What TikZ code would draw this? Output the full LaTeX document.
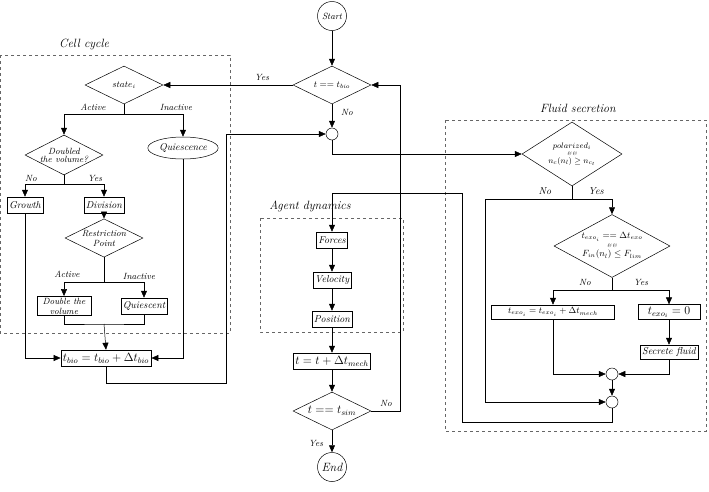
\documentclass[tikz,border=0pt]{standalone}
\usepackage{amsmath}
\usetikzlibrary{calc,arrows.meta,shapes.geometric}
\tikzset{
  arr/.style={-{Triangle[length=7pt,width=6pt]}},
  blk/.style={draw, rectangle, inner sep=2pt, minimum height=16pt, font=\normalsize\itshape},
  dec/.style={draw, diamond, aspect=2, inner sep=0pt, minimum width=78pt, minimum height=38pt, font=\small\itshape, align=center},
  jn/.style={draw, circle, inner sep=0pt, minimum size=12pt},
  lbl/.style={font=\small\itshape},
  grp/.style={draw, dashed, gray!80!black}
}
\begin{document}
\begin{tikzpicture}[x=1pt,y=-1pt,line width=0.5pt]
\useasboundingbox (0,0) rectangle (709,491);

% groups
\draw[grp] (0,55) rectangle (230,333);
\node[font=\large\itshape] at (84,44) {Cell cycle};
\draw[grp] (260,218) rectangle (403,332);
\node[font=\large\itshape] at (310,206) {Agent dynamics};
\draw[grp] (445,120) rectangle (706,431);
\node[font=\large\itshape] at (578,108) {Fluid secretion};

% main column
\node[draw, circle, minimum size=29pt, inner sep=0, font=\small\itshape] (start) at (332,16) {Start};
\node[dec] (tbio) at (332,85) {$t == t_{bio}$};
\node[jn] (j1) at (332,134) {};
\node[blk] (forces) at (332,240) {Forces};
\node[blk] (vel) at (332,280) {Velocity};
\node[blk] (pos) at (332,319) {Position};
\node[blk, font=\large] (tmech) at (332,361) {$t = t + \Delta t_{mech}$};
\node[dec, font=\large] (tsim) at (332,411) {$t == t_{sim}$};
\node[draw, circle, minimum size=29pt, inner sep=0, font=\large\itshape] (end) at (332,467) {End};

\draw[arr] (start) -- (tbio);
\draw[arr] (tbio) -- (j1);
\node[lbl] at (347,112) {No};
\draw[arr] (forces) -- (vel);
\draw[arr] (vel) -- (pos);
\draw[arr] (pos) -- (tmech);
\draw[arr] (tmech) -- (tsim);
\draw[arr] (tsim) -- (end);
\node[lbl] at (316,443) {Yes};
\draw[arr] (tsim.east) -- (400,411) -- (400,85) -- (tbio.east);
\node[lbl] at (386,403) {No};

% cell cycle
\node[dec] (state) at (124,85) {$state_i$};
\node[draw, ellipse, inner sep=1pt, minimum height=22pt, font=\normalsize\itshape] (quies) at (183,148) {Quiescence};
\node[dec, minimum height=40pt] (doubled) at (64,155) {Doubled\\[-3pt]the volume?};
\node[blk] (growth) at (25,205) {Growth};
\node[blk] (div) at (104,205) {Division};
\node[dec] (restr) at (104,238) {Restriction\\[-1pt]Point};
\node[blk, align=center, font=\small\itshape, inner sep=1.5pt, minimum width=54pt] (dvol) at (64,306) {Double the\\[-1pt]volume};
\node[blk] (qcent) at (144,306) {Quiescent};
\node[blk, font=\large] (tupd) at (106,358) {$t_{bio} = t_{bio} + \Delta t_{bio}$};

\draw[arr] (tbio.west) -- (state.east);
\node[lbl] at (262,77) {Yes};
\draw (state.south) -- (124,114);
\draw[arr] (124,114) -| (doubled.north);
\draw[arr] (124,114) -| (quies.north);
\node[lbl] at (93,107) {Active};
\node[lbl] at (176,107) {Inactive};
\draw (doubled.south) -- (64,184);
\draw[arr] (64,184) -| (growth.north);
\draw[arr] (64,184) -| (div.north);
\node[lbl] at (31,178) {No};
\node[lbl] at (95,178) {Yes};
\draw[arr] (div) -- (restr);
\draw (restr.south) -- (104,282);
\draw[arr] (104,282) -| (dvol.north);
\draw[arr] (104,282) -| (qcent.north);
\node[lbl] at (67,274) {Active};
\node[lbl] at (139,276) {Inactive};
\draw (dvol.south) |- (104,324) -| (qcent.south);
\draw[arr] (104,324) -- (tupd.north);
\draw[arr] (growth.south) |- (tupd.west);
\draw[arr] (quies.south) |- (tupd.east);
\draw[arr] (tupd.south) -- (106,383) -- (226,383) -- (226,134) -- (j1.west);

% fluid secretion
\node[dec, minimum width=100pt, minimum height=64pt, font=\footnotesize\itshape] (pol) at (572,154) {$polarized_i$\\[-2pt]{\tiny \&\,\&}\\[-2pt]$n_c(n_l) \geq n_{c_t}$};
\node[dec, minimum width=116pt, minimum height=63pt, font=\small\itshape] (texo) at (612,246) {$t_{exo_i} == \Delta t_{exo}$\\[-2pt]{\tiny \&\,\&}\\[-2pt]$F_{in}(n_l) \leq F_{lim}$};
\node[blk, minimum width=123pt, minimum height=14pt, font=\small] (texoupd) at (553,312) {$t_{exo_i} = t_{exo_i} + \Delta t_{mech}$};
\node[blk, minimum width=62pt, minimum height=14pt, font=\large] (texo0) at (669,312) {$t_{exo_i} = 0$};
\node[blk, minimum height=14pt] (secr) at (669,352) {Secrete fluid};
\node[jn] (j2) at (612,374) {};
\node[jn] (j3) at (612,402) {};

\draw[arr] (j1.south) -- (332,154) -- (pol.west);
\draw (pol.south) -- (572,199);
\draw[arr] (572,199) -| (texo.north);
\draw[arr] (572,199) -| (485,402) -- (j3.west);
\node[font=\normalsize\itshape] at (545,191) {No};
\node[font=\normalsize\itshape] at (596,191) {Yes};
\draw (texo.south) -- (612,290);
\draw[arr] (612,290) -| (texoupd.north);
\draw[arr] (612,290) -| (texo0.north);
\node[lbl] at (585,282) {No};
\node[lbl] at (641,282) {Yes};
\draw[arr] (texo0) -- (secr);
\draw[arr] (texoupd.south) |- (j2.west);
\draw[arr] (secr.south) |- (j2.east);
\draw[arr] (j2) -- (j3);
\draw[arr] (j3.south) -- (612,422) -- (462,422) -- (462,193) -- (332,193) -- (forces.north);
\end{tikzpicture}
\end{document}
